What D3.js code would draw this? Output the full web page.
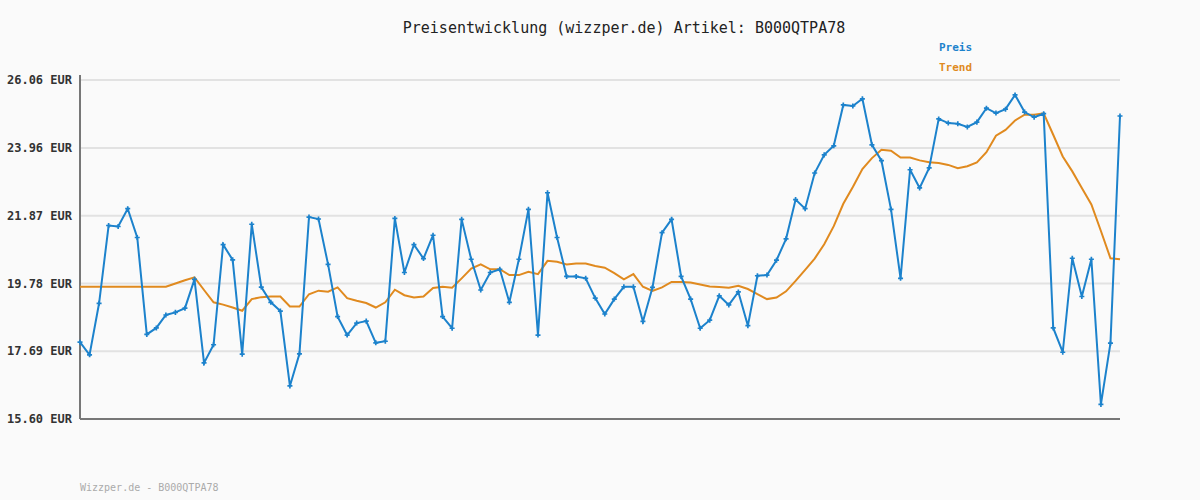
<!DOCTYPE html>
<html>
<head>
<meta charset="utf-8">
<script src="https://cdn.jsdelivr.net/npm/d3@7"></script>
<style>
  body { margin: 0; background: #fafafa; }
  text { font-family: "DejaVu Sans Mono", monospace; }
</style>
</head>
<body>
<div class="chart"></div>
<script>
const yTicks = [15.60, 17.69, 19.78, 21.87, 23.96, 26.06]

const preis = [
    17.97, 17.58, 19.17, 21.57, 21.54, 22.09, 21.20, 18.21, 18.41, 18.81,
    18.89, 19.02, 19.91, 17.33, 17.89, 20.98, 20.51, 17.60, 21.61, 19.67,
    19.20, 18.93, 16.62, 17.61, 21.83, 21.77, 20.37, 18.76, 18.19, 18.56,
    18.62, 17.95, 18.00, 21.79, 20.12, 20.98, 20.55, 21.27,
    18.76, 18.40, 21.76, 20.53, 19.58, 20.12, 20.22, 19.20, 20.53, 22.07,
    18.19, 22.58, 21.20, 20.00, 20.00, 19.94, 19.33, 18.84, 19.30, 19.68,
    19.68, 18.61, 19.66, 21.35, 21.76, 20.00, 19.30, 18.40, 18.65, 19.40,
    19.12, 19.52, 18.48, 20.02, 20.04, 20.50,
    21.16, 22.37, 22.09, 23.19, 23.75, 24.03, 25.29, 25.26, 25.48, 24.06,
    23.57, 22.07, 19.94, 23.29, 22.73, 23.35, 24.86, 24.73, 24.71, 24.61,
    24.76, 25.19, 25.04, 25.16, 25.60, 25.07, 24.91, 25.02, 18.41, 17.66,
    20.56, 19.38, 20.53, 16.05, 17.94, 24.95
]

const trend = [
    19.68, 19.68, 19.68, 19.68, 19.68, 19.68, 19.68, 19.68, 19.68, 19.68,
    19.78, 19.88, 19.97, 19.58, 19.20, 19.13, 19.04, 18.94, 19.30, 19.36,
    19.38, 19.38, 19.07, 19.07, 19.45, 19.56, 19.53, 19.66, 19.33, 19.25,
    19.18, 19.04, 19.20, 19.59, 19.42, 19.35, 19.38, 19.64,
    19.68, 19.65, 19.94, 20.24, 20.37, 20.22, 20.22, 20.04, 20.04, 20.14,
    20.07, 20.48, 20.45, 20.37, 20.40, 20.40, 20.32, 20.27, 20.10, 19.91,
    20.07, 19.68, 19.55, 19.66, 19.83, 19.83, 19.81, 19.75, 19.69, 19.67,
    19.65, 19.71, 19.61, 19.45, 19.30, 19.35,
    19.54, 19.86, 20.20, 20.55, 20.99, 21.55, 22.24, 22.76, 23.31, 23.65,
    23.91, 23.88, 23.67, 23.67, 23.58, 23.52, 23.50, 23.44, 23.34, 23.40,
    23.52, 23.83, 24.34, 24.52, 24.81, 24.99, 24.99, 25.03, 24.37, 23.70,
    23.24, 22.73, 22.22, 21.40, 20.56, 20.53
]

const width = 1200, height = 500
const margin = { top: 80, right: 80, bottom: 81, left: 80 }
const blue = "#1c82cc", orange = "#e08a1f"

const svg = d3.select(".chart").append("svg")
    .attr("width", width)
    .attr("height", height)

svg.append("rect").attr("width", width).attr("height", height).attr("fill", "#fafafa")

const x = d3.scaleLinear()
    .domain([0, preis.length - 1])
    .range([margin.left, width - margin.right])

const y = d3.scaleLinear()
    .domain([15.60, 26.06])
    .range([height - margin.bottom, margin.top])

// grid
svg.append("g")
    .selectAll("line")
    .data(yTicks.slice(1))
    .join("line")
    .attr("x1", margin.left).attr("x2", width - margin.right)
    .attr("y1", d => y(d)).attr("y2", d => y(d))
    .attr("stroke", "#e2e2e2").attr("stroke-width", 2)

svg.append("g")
    .selectAll("text")
    .data(yTicks)
    .join("text")
    .attr("x", 72)
    .attr("y", d => y(d))
    .attr("dy", "0.35em")
    .attr("text-anchor", "end")
    .attr("font-size", 12)
    .attr("font-weight", "bold")
    .attr("fill", "#333")
    .text(d => d.toFixed(2) + " EUR")

// axes
svg.append("line")
    .attr("x1", margin.left).attr("x2", margin.left)
    .attr("y1", margin.top - 5).attr("y2", y(15.60))
    .attr("stroke", "#777").attr("stroke-width", 2)
svg.append("line")
    .attr("x1", margin.left).attr("x2", width - margin.right)
    .attr("y1", y(15.60)).attr("y2", y(15.60))
    .attr("stroke", "#777").attr("stroke-width", 2)

const line = d3.line().x((d, i) => x(i)).y(d => y(d))

svg.append("path")
    .attr("d", line(trend))
    .attr("fill", "none").attr("stroke", orange).attr("stroke-width", 2)

svg.append("path")
    .attr("d", line(preis))
    .attr("fill", "none").attr("stroke", blue).attr("stroke-width", 2)

svg.append("g")
    .selectAll("path")
    .data(preis)
    .join("path")
    .attr("d", d3.symbol(d3.symbolCross, 14))
    .attr("transform", (d, i) => `translate(${x(i)},${y(d)})`)
    .attr("fill", blue)

// title & legend
svg.append("text")
    .attr("x", 624).attr("y", 33)
    .attr("text-anchor", "middle")
    .attr("font-size", 15)
    .attr("fill", "#222")
    .text("Preisentwicklung (wizzper.de) Artikel: B000QTPA78")

svg.append("text").attr("x", 939).attr("y", 51)
    .attr("font-size", 11).attr("font-weight", "bold").attr("fill", blue).text("Preis")
svg.append("text").attr("x", 939).attr("y", 71)
    .attr("font-size", 11).attr("font-weight", "bold").attr("fill", orange).text("Trend")

svg.append("text").attr("x", 80).attr("y", 491)
    .attr("font-size", 10).attr("fill", "#aaa").text("Wizzper.de - B000QTPA78")
</script>
</body>
</html>
